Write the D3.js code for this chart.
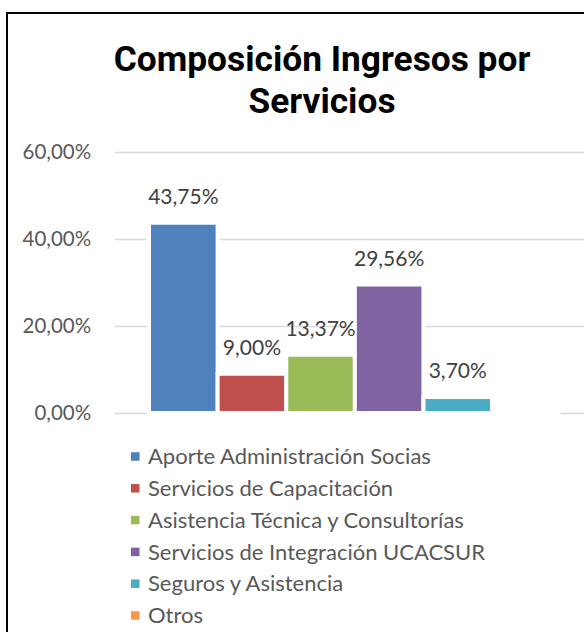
<!DOCTYPE html>
<html>
<head>
<meta charset="utf-8">
<title>Composición Ingresos por Servicios</title>
<script src="https://d3js.org/d3.v7.min.js"></script>
<style>
  body { margin: 0; background: #fff; }
  svg { display: block; }
</style>
</head>
<body>
<svg width="584" height="632"></svg>
<script>

// data
var categories = ["Aporte Administración Socias", "Servicios de Capacitación",
  "Asistencia Técnica y Consultorías", "Servicios de Integración UCACSUR",
  "Seguros y Asistencia", "Otros"];
var values = [43.75, 9.00, 13.37, 29.56, 3.70, 0];
var colors = ["#4f81bd", "#c0504d", "#9bbb59", "#8064a2", "#4bacc6", "#f79646"];
var yTicks = [0, 20, 40, 60];
var titleLines = ["Composición Ingresos por", "Servicios"];

var svg = d3.select("svg"),
    width = +svg.attr("width"),
    height = +svg.attr("height");

var plot = {left: 114.7, right: 595, top: 152, bottom: 413};
var bodyFont = "Lato";

// spanish number format: 43,75%
var es = d3.formatLocale({decimal: ",", thousands: ".", grouping: [3], currency: ["", "$"]});
var fmt = function(d) { return es.format(".2f")(d) + "%"; };

var y = d3.scaleLinear()
    .domain([0, 60])
    .range([plot.bottom, plot.top]);

var x = d3.scaleBand()
    .domain(categories)
    .range([plot.left, plot.right])
    .paddingInner(0)
    .paddingOuter(0.5);

var color = d3.scaleOrdinal()
    .domain(categories)
    .range(colors);

// chart frame (only left and top edges fall inside the crop)
svg.append("rect")
    .attr("x", 7)
    .attr("y", 13)
    .attr("width", 620)
    .attr("height", 660)
    .attr("fill", "none")
    .attr("stroke", "#000")
    .attr("stroke-width", 2);

// title
svg.append("text")
    .attr("x", 322)
    .attr("y", 71)
    .attr("text-anchor", "middle")
    .attr("font-family", "Roboto")
    .attr("font-weight", "bold")
    .attr("font-size", 35.3)
    .attr("fill", "#000")
  .selectAll("tspan")
  .data(titleLines)
  .enter().append("tspan")
    .attr("x", 322)
    .attr("dy", function(d, i) { return i ? 41.5 : 0; })
    .text(function(d) { return d; });

// y axis with gridlines
var axis = svg.append("g")
    .attr("transform", "translate(" + plot.left + ",0)")
    .call(d3.axisLeft(y)
      .tickValues(yTicks)
      .tickSize(-(plot.right - plot.left))
      .tickPadding(23.5)
      .tickFormat(fmt));

axis.select(".domain").remove();
axis.selectAll(".tick line")
    .attr("stroke", "#d9d9d9")
    .attr("stroke-width", 1.5);
axis.selectAll(".tick text")
    .attr("font-family", bodyFont)
    .attr("font-size", 20.5)
    .attr("fill", "#595959");

// bars, drawn as paths so a zero bar still gets its white edge
svg.append("g")
  .selectAll("path")
  .data(categories)
  .enter().append("path")
    .attr("d", function(d, i) {
      var x0 = x(d), w = x.bandwidth(), y0 = y(0), y1 = y(values[i]);
      return "M" + x0 + "," + y0 + "H" + (x0 + w) + "V" + y1 + "H" + x0 + "Z";
    })
    .attr("fill", function(d) { return color(d); })
    .attr("stroke", "#fff")
    .attr("stroke-width", 4);

// data labels
svg.append("g")
  .selectAll("text")
  .data(categories.filter(function(d, i) { return values[i] > 0; }))
  .enter().append("text")
    .attr("x", function(d) { return x(d) + x.bandwidth() / 2; })
    .attr("y", function(d) { return y(values[categories.indexOf(d)]) - 18.5; })
    .attr("text-anchor", "middle")
    .attr("font-family", bodyFont)
    .attr("font-size", 21)
    .attr("fill", "#404040")
    .text(function(d) { return fmt(values[categories.indexOf(d)]); });

// legend
var legend = svg.append("g")
  .selectAll("g")
  .data(categories)
  .enter().append("g")
    .attr("transform", function(d, i) { return "translate(131," + (456.5 + i * 31.8) + ")"; });

legend.append("rect")
    .attr("x", 0)
    .attr("y", -4.25)
    .attr("width", 8.5)
    .attr("height", 8.5)
    .attr("fill", function(d) { return color(d); });

legend.append("text")
    .attr("x", 17)
    .attr("dy", "0.35em")
    .attr("font-family", bodyFont)
    .attr("font-size", 22)
    .attr("fill", "#595959")
    .text(function(d) { return d; });

</script>
</body>
</html>
